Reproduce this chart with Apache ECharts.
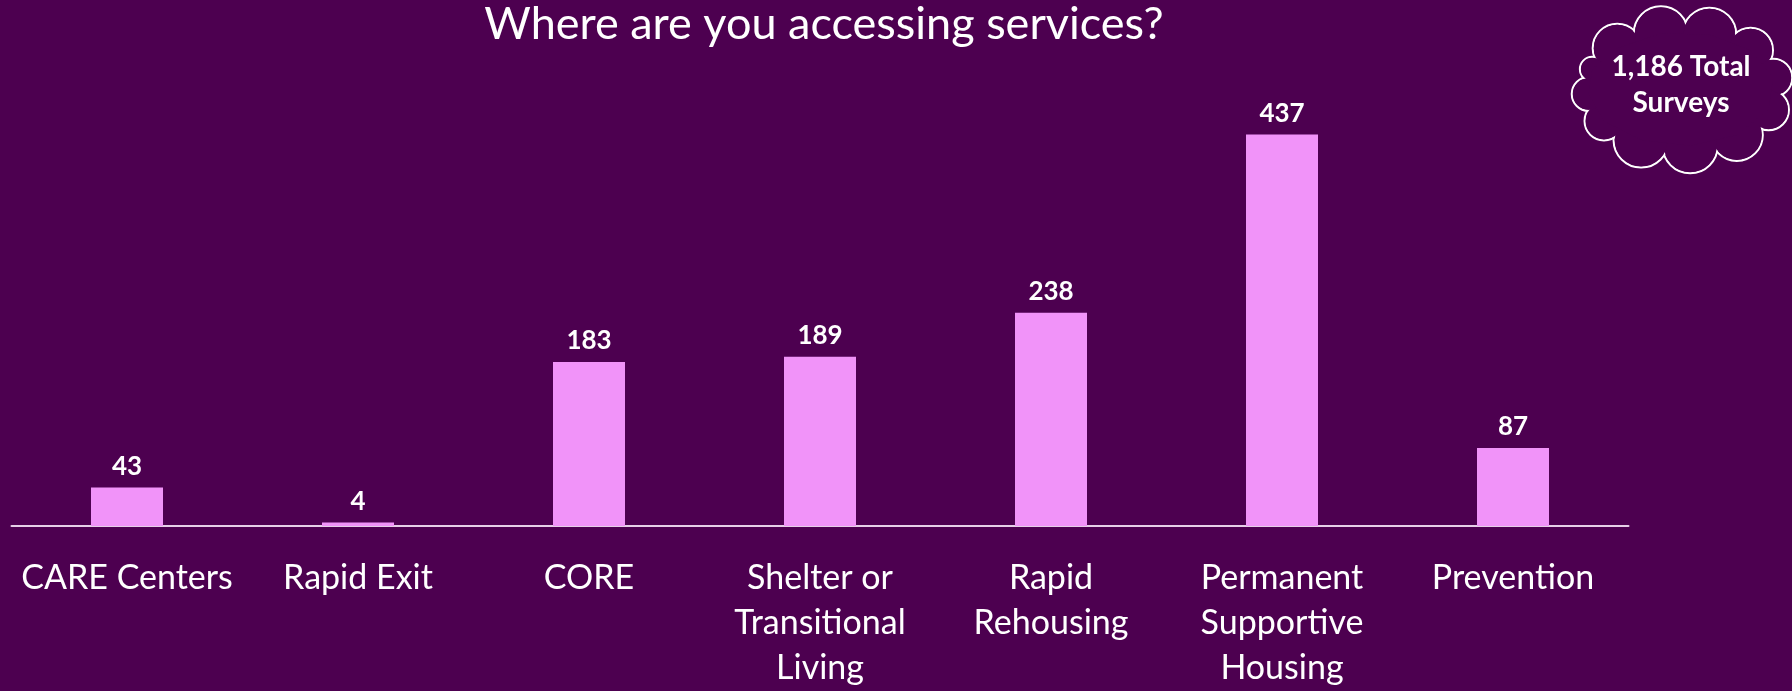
<!DOCTYPE html>
<html><head><meta charset="utf-8">
<script src="https://cdn.jsdelivr.net/npm/echarts@6/dist/echarts.min.js"></script>
<style>html,body{margin:0;padding:0;background:#4d0050;}#c{width:1792px;height:691px;}</style>
</head><body><div id="c"></div>
<script>
const categories = ['CARE Centers', 'Rapid Exit', 'CORE', 'Shelter or\nTransitional\nLiving', 'Rapid\nRehousing', 'Permanent\nSupportive\nHousing', 'Prevention'];
const values = [43, 4, 183, 189, 238, 437, 87];
const titleText = 'Where are you accessing services?';
const calloutText = '1,186 Total\nSurveys';

const BG = '#4d0050';
function cloudElements(cx, cy, rx, ry, angles) {
  const pts = angles.map(a => {
    const t = a * Math.PI / 180;
    return [cx + rx * Math.cos(t), cy + ry * Math.sin(t)];
  });
  const circles = pts.map((p, i) => {
    const q = pts[(i + 1) % pts.length];
    const m = [(p[0] + q[0]) / 2, (p[1] + q[1]) / 2];
    const r = Math.hypot(q[0] - p[0], q[1] - p[1]) * 0.55;
    return { x: m[0], y: m[1], r };
  });
  const els = [];
  circles.forEach(c => els.push({ type: 'circle', shape: { cx: c.x, cy: c.y, r: c.r }, style: { fill: BG, stroke: '#ffffff', lineWidth: 2 }, z: 10 }));
  circles.forEach(c => els.push({ type: 'circle', shape: { cx: c.x, cy: c.y, r: c.r - 1.2 }, style: { fill: BG }, z: 11 }));
  els.push({ type: 'polygon', shape: { points: circles.map(c => [c.x, c.y]) }, style: { fill: BG }, z: 12 });
  return els;
}

const chart = echarts.init(document.getElementById('c'));
chart.setOption({
  backgroundColor: BG,
  animation: false,
  title: {
    text: titleText,
    left: 819,
    top: -3,
    textAlign: 'center',
    textStyle: { color: '#ffffff', fontFamily: 'Lato', fontWeight: 'normal', fontSize: 45 }
  },
  grid: { left: 11.5, right: 1792 - 1628.5, top: 78, bottom: 161, containLabel: false },
  xAxis: {
    type: 'category',
    data: categories,
    axisLine: { lineStyle: { color: '#e6cfe8', width: 2 } },
    axisTick: { show: false },
    axisLabel: {
      color: '#ffffff', fontFamily: 'Lato', fontSize: 34, lineHeight: 45,
      margin: 30, interval: 0, verticalAlign: 'top'
    }
  },
  yAxis: {
    type: 'value', min: 0, max: 500,
    show: false, splitLine: { show: false }
  },
  series: [{
    type: 'bar',
    data: values,
    barWidth: 72,
    itemStyle: { color: '#f193f9' },
    label: {
      show: true, position: 'top', distance: 8,
      color: '#ffffff', fontFamily: 'Lato', fontWeight: 'bold', fontSize: 26
    }
  }],
  graphic: cloudElements(1682, 89, 97, 59, [-150, -118, -88, -58, -28, 5, 38, 70, 100, 132, 160, 190]).concat([
    {
      type: 'text',
      x: 1681, y: 85, z: 20,
      style: {
        text: calloutText, fill: '#ffffff', fontFamily: 'Lato', fontWeight: 'bold',
        fontSize: 28, lineHeight: 36, align: 'center', verticalAlign: 'middle'
      }
    }
  ])
});
</script>
</body></html>
